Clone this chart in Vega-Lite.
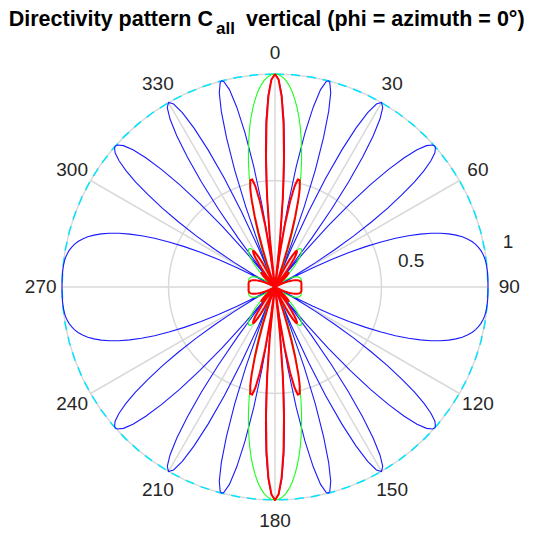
{
"$schema": "https://vega.github.io/schema/vega-lite/v6.json",
"width": 550, "height": 538, "autosize": {"type": "none"}, "padding": 0,
"background": "white",
"config": {"view": {"stroke": null}, "text": {"font": "Liberation Sans"}},
"datasets": {
"pattern": [
{"t":0,"b":1,"g":1,"r":1},
{"t":1,"b":0.976,"g":0.997,"r":0.973},
{"t":2,"b":0.905,"g":0.987,"r":0.894},
{"t":3,"b":0.791,"g":0.971,"r":0.768},
{"t":4,"b":0.64,"g":0.949,"r":0.607},
{"t":5,"b":0.458,"g":0.921,"r":0.422},
{"t":6,"b":0.254,"g":0.887,"r":0.226},
{"t":7,"b":0.039,"g":0.849,"r":0.033},
{"t":8,"b":0.177,"g":0.806,"r":0.143},
{"t":9,"b":0.385,"g":0.759,"r":0.292},
{"t":10,"b":0.574,"g":0.708,"r":0.406},
{"t":11,"b":0.736,"g":0.654,"r":0.482},
{"t":12,"b":0.863,"g":0.599,"r":0.517},
{"t":13,"b":0.951,"g":0.541,"r":0.515},
{"t":14,"b":0.995,"g":0.483,"r":0.48},
{"t":15,"b":0.994,"g":0.424,"r":0.421},
{"t":16,"b":0.949,"g":0.365,"r":0.346},
{"t":17,"b":0.862,"g":0.307,"r":0.265},
{"t":18,"b":0.737,"g":0.251,"r":0.185},
{"t":19,"b":0.582,"g":0.196,"r":0.114},
{"t":20,"b":0.403,"g":0.144,"r":0.058},
{"t":21,"b":0.207,"g":0.095,"r":0.02},
{"t":22,"b":0.005,"g":0.048,"r":0},
{"t":23,"b":0.196,"g":0.005,"r":0.001},
{"t":24,"b":0.388,"g":0.034,"r":0.013},
{"t":25,"b":0.563,"g":0.07,"r":0.04},
{"t":26,"b":0.715,"g":0.102,"r":0.073},
{"t":27,"b":0.837,"g":0.13,"r":0.109},
{"t":28,"b":0.927,"g":0.153,"r":0.142},
{"t":29,"b":0.982,"g":0.173,"r":0.17},
{"t":30,"b":1,"g":0.189,"r":0.189},
{"t":31,"b":0.982,"g":0.201,"r":0.198},
{"t":32,"b":0.93,"g":0.21,"r":0.195},
{"t":33,"b":0.847,"g":0.215,"r":0.182},
{"t":34,"b":0.736,"g":0.217,"r":0.16},
{"t":35,"b":0.602,"g":0.216,"r":0.13},
{"t":36,"b":0.451,"g":0.213,"r":0.096},
{"t":37,"b":0.287,"g":0.207,"r":0.059},
{"t":38,"b":0.117,"g":0.198,"r":0.023},
{"t":39,"b":0.054,"g":0.188,"r":0.01},
{"t":40,"b":0.222,"g":0.177,"r":0.039},
{"t":41,"b":0.38,"g":0.164,"r":0.062},
{"t":42,"b":0.527,"g":0.15,"r":0.079},
{"t":43,"b":0.657,"g":0.135,"r":0.089},
{"t":44,"b":0.768,"g":0.119,"r":0.092},
{"t":45,"b":0.858,"g":0.104,"r":0.089},
{"t":46,"b":0.927,"g":0.088,"r":0.081},
{"t":47,"b":0.973,"g":0.072,"r":0.07},
{"t":48,"b":0.996,"g":0.056,"r":0.056},
{"t":49,"b":0.998,"g":0.04,"r":0.04},
{"t":50,"b":0.98,"g":0.025,"r":0.025},
{"t":51,"b":0.942,"g":0.011,"r":0.01},
{"t":52,"b":0.888,"g":0.003,"r":0.003},
{"t":53,"b":0.819,"g":0.017,"r":0.014},
{"t":54,"b":0.737,"g":0.029,"r":0.021},
{"t":55,"b":0.646,"g":0.041,"r":0.026},
{"t":56,"b":0.546,"g":0.052,"r":0.028},
{"t":57,"b":0.441,"g":0.062,"r":0.027},
{"t":58,"b":0.332,"g":0.071,"r":0.024},
{"t":59,"b":0.222,"g":0.079,"r":0.018},
{"t":60,"b":0.113,"g":0.087,"r":0.01},
{"t":61,"b":0.005,"g":0.094,"r":0},
{"t":62,"b":0.1,"g":0.1,"r":0.01},
{"t":63,"b":0.2,"g":0.105,"r":0.021},
{"t":64,"b":0.295,"g":0.11,"r":0.032},
{"t":65,"b":0.383,"g":0.114,"r":0.044},
{"t":66,"b":0.466,"g":0.117,"r":0.054},
{"t":67,"b":0.541,"g":0.12,"r":0.065},
{"t":68,"b":0.61,"g":0.122,"r":0.075},
{"t":69,"b":0.671,"g":0.124,"r":0.083},
{"t":70,"b":0.726,"g":0.125,"r":0.091},
{"t":71,"b":0.775,"g":0.127,"r":0.098},
{"t":72,"b":0.817,"g":0.127,"r":0.104},
{"t":73,"b":0.853,"g":0.128,"r":0.109},
{"t":74,"b":0.884,"g":0.128,"r":0.113},
{"t":75,"b":0.91,"g":0.128,"r":0.117},
{"t":76,"b":0.931,"g":0.128,"r":0.119},
{"t":77,"b":0.949,"g":0.128,"r":0.121},
{"t":78,"b":0.963,"g":0.128,"r":0.123},
{"t":79,"b":0.973,"g":0.127,"r":0.124},
{"t":80,"b":0.982,"g":0.127,"r":0.125},
{"t":81,"b":0.988,"g":0.126,"r":0.125},
{"t":82,"b":0.993,"g":0.126,"r":0.125},
{"t":83,"b":0.996,"g":0.125,"r":0.125},
{"t":84,"b":0.998,"g":0.125,"r":0.125},
{"t":85,"b":0.999,"g":0.125,"r":0.125},
{"t":86,"b":1,"g":0.124,"r":0.124},
{"t":87,"b":1,"g":0.124,"r":0.124},
{"t":88,"b":1,"g":0.124,"r":0.124},
{"t":89,"b":1,"g":0.124,"r":0.124},
{"t":90,"b":1,"g":0.124,"r":0.124},
{"t":180,"b":1,"g":1,"r":1},
{"t":179,"b":0.976,"g":0.997,"r":0.973},
{"t":178,"b":0.905,"g":0.987,"r":0.894},
{"t":177,"b":0.791,"g":0.971,"r":0.768},
{"t":176,"b":0.64,"g":0.949,"r":0.607},
{"t":175,"b":0.458,"g":0.921,"r":0.422},
{"t":174,"b":0.254,"g":0.887,"r":0.226},
{"t":173,"b":0.039,"g":0.849,"r":0.033},
{"t":172,"b":0.177,"g":0.806,"r":0.143},
{"t":171,"b":0.385,"g":0.759,"r":0.292},
{"t":170,"b":0.574,"g":0.708,"r":0.406},
{"t":169,"b":0.736,"g":0.654,"r":0.482},
{"t":168,"b":0.863,"g":0.599,"r":0.517},
{"t":167,"b":0.951,"g":0.541,"r":0.515},
{"t":166,"b":0.995,"g":0.483,"r":0.48},
{"t":165,"b":0.994,"g":0.424,"r":0.421},
{"t":164,"b":0.949,"g":0.365,"r":0.346},
{"t":163,"b":0.862,"g":0.307,"r":0.265},
{"t":162,"b":0.737,"g":0.251,"r":0.185},
{"t":161,"b":0.582,"g":0.196,"r":0.114},
{"t":160,"b":0.403,"g":0.144,"r":0.058},
{"t":159,"b":0.207,"g":0.095,"r":0.02},
{"t":158,"b":0.005,"g":0.048,"r":0},
{"t":157,"b":0.196,"g":0.005,"r":0.001},
{"t":156,"b":0.388,"g":0.034,"r":0.013},
{"t":155,"b":0.563,"g":0.07,"r":0.04},
{"t":154,"b":0.715,"g":0.102,"r":0.073},
{"t":153,"b":0.837,"g":0.13,"r":0.109},
{"t":152,"b":0.927,"g":0.153,"r":0.142},
{"t":151,"b":0.982,"g":0.173,"r":0.17},
{"t":150,"b":1,"g":0.189,"r":0.189},
{"t":149,"b":0.982,"g":0.201,"r":0.198},
{"t":148,"b":0.93,"g":0.21,"r":0.195},
{"t":147,"b":0.847,"g":0.215,"r":0.182},
{"t":146,"b":0.736,"g":0.217,"r":0.16},
{"t":145,"b":0.602,"g":0.216,"r":0.13},
{"t":144,"b":0.451,"g":0.213,"r":0.096},
{"t":143,"b":0.287,"g":0.207,"r":0.059},
{"t":142,"b":0.117,"g":0.198,"r":0.023},
{"t":141,"b":0.054,"g":0.188,"r":0.01},
{"t":140,"b":0.222,"g":0.177,"r":0.039},
{"t":139,"b":0.38,"g":0.164,"r":0.062},
{"t":138,"b":0.527,"g":0.15,"r":0.079},
{"t":137,"b":0.657,"g":0.135,"r":0.089},
{"t":136,"b":0.768,"g":0.119,"r":0.092},
{"t":135,"b":0.858,"g":0.104,"r":0.089},
{"t":134,"b":0.927,"g":0.088,"r":0.081},
{"t":133,"b":0.973,"g":0.072,"r":0.07},
{"t":132,"b":0.996,"g":0.056,"r":0.056},
{"t":131,"b":0.998,"g":0.04,"r":0.04},
{"t":130,"b":0.98,"g":0.025,"r":0.025},
{"t":129,"b":0.942,"g":0.011,"r":0.01},
{"t":128,"b":0.888,"g":0.003,"r":0.003},
{"t":127,"b":0.819,"g":0.017,"r":0.014},
{"t":126,"b":0.737,"g":0.029,"r":0.021},
{"t":125,"b":0.646,"g":0.041,"r":0.026},
{"t":124,"b":0.546,"g":0.052,"r":0.028},
{"t":123,"b":0.441,"g":0.062,"r":0.027},
{"t":122,"b":0.332,"g":0.071,"r":0.024},
{"t":121,"b":0.222,"g":0.079,"r":0.018},
{"t":120,"b":0.113,"g":0.087,"r":0.01},
{"t":119,"b":0.005,"g":0.094,"r":0},
{"t":118,"b":0.1,"g":0.1,"r":0.01},
{"t":117,"b":0.2,"g":0.105,"r":0.021},
{"t":116,"b":0.295,"g":0.11,"r":0.032},
{"t":115,"b":0.383,"g":0.114,"r":0.044},
{"t":114,"b":0.466,"g":0.117,"r":0.054},
{"t":113,"b":0.541,"g":0.12,"r":0.065},
{"t":112,"b":0.61,"g":0.122,"r":0.075},
{"t":111,"b":0.671,"g":0.124,"r":0.083},
{"t":110,"b":0.726,"g":0.125,"r":0.091},
{"t":109,"b":0.775,"g":0.127,"r":0.098},
{"t":108,"b":0.817,"g":0.127,"r":0.104},
{"t":107,"b":0.853,"g":0.128,"r":0.109},
{"t":106,"b":0.884,"g":0.128,"r":0.113},
{"t":105,"b":0.91,"g":0.128,"r":0.117},
{"t":104,"b":0.931,"g":0.128,"r":0.119},
{"t":103,"b":0.949,"g":0.128,"r":0.121},
{"t":102,"b":0.963,"g":0.128,"r":0.123},
{"t":101,"b":0.973,"g":0.127,"r":0.124},
{"t":100,"b":0.982,"g":0.127,"r":0.125},
{"t":99,"b":0.988,"g":0.126,"r":0.125},
{"t":98,"b":0.993,"g":0.126,"r":0.125},
{"t":97,"b":0.996,"g":0.125,"r":0.125},
{"t":96,"b":0.998,"g":0.125,"r":0.125},
{"t":95,"b":0.999,"g":0.125,"r":0.125},
{"t":94,"b":1,"g":0.124,"r":0.124},
{"t":93,"b":1,"g":0.124,"r":0.124},
{"t":92,"b":1,"g":0.124,"r":0.124},
{"t":91,"b":1,"g":0.124,"r":0.124},
{"t":181,"b":0.976,"g":0.997,"r":0.973},
{"t":182,"b":0.905,"g":0.987,"r":0.894},
{"t":183,"b":0.791,"g":0.971,"r":0.768},
{"t":184,"b":0.64,"g":0.949,"r":0.607},
{"t":185,"b":0.458,"g":0.921,"r":0.422},
{"t":186,"b":0.254,"g":0.887,"r":0.226},
{"t":187,"b":0.039,"g":0.849,"r":0.033},
{"t":188,"b":0.177,"g":0.806,"r":0.143},
{"t":189,"b":0.385,"g":0.759,"r":0.292},
{"t":190,"b":0.574,"g":0.708,"r":0.406},
{"t":191,"b":0.736,"g":0.654,"r":0.482},
{"t":192,"b":0.863,"g":0.599,"r":0.517},
{"t":193,"b":0.951,"g":0.541,"r":0.515},
{"t":194,"b":0.995,"g":0.483,"r":0.48},
{"t":195,"b":0.994,"g":0.424,"r":0.421},
{"t":196,"b":0.949,"g":0.365,"r":0.346},
{"t":197,"b":0.862,"g":0.307,"r":0.265},
{"t":198,"b":0.737,"g":0.251,"r":0.185},
{"t":199,"b":0.582,"g":0.196,"r":0.114},
{"t":200,"b":0.403,"g":0.144,"r":0.058},
{"t":201,"b":0.207,"g":0.095,"r":0.02},
{"t":202,"b":0.005,"g":0.048,"r":0},
{"t":203,"b":0.196,"g":0.005,"r":0.001},
{"t":204,"b":0.388,"g":0.034,"r":0.013},
{"t":205,"b":0.563,"g":0.07,"r":0.04},
{"t":206,"b":0.715,"g":0.102,"r":0.073},
{"t":207,"b":0.837,"g":0.13,"r":0.109},
{"t":208,"b":0.927,"g":0.153,"r":0.142},
{"t":209,"b":0.982,"g":0.173,"r":0.17},
{"t":210,"b":1,"g":0.189,"r":0.189},
{"t":211,"b":0.982,"g":0.201,"r":0.198},
{"t":212,"b":0.93,"g":0.21,"r":0.195},
{"t":213,"b":0.847,"g":0.215,"r":0.182},
{"t":214,"b":0.736,"g":0.217,"r":0.16},
{"t":215,"b":0.602,"g":0.216,"r":0.13},
{"t":216,"b":0.451,"g":0.213,"r":0.096},
{"t":217,"b":0.287,"g":0.207,"r":0.059},
{"t":218,"b":0.117,"g":0.198,"r":0.023},
{"t":219,"b":0.054,"g":0.188,"r":0.01},
{"t":220,"b":0.222,"g":0.177,"r":0.039},
{"t":221,"b":0.38,"g":0.164,"r":0.062},
{"t":222,"b":0.527,"g":0.15,"r":0.079},
{"t":223,"b":0.657,"g":0.135,"r":0.089},
{"t":224,"b":0.768,"g":0.119,"r":0.092},
{"t":225,"b":0.858,"g":0.104,"r":0.089},
{"t":226,"b":0.927,"g":0.088,"r":0.081},
{"t":227,"b":0.973,"g":0.072,"r":0.07},
{"t":228,"b":0.996,"g":0.056,"r":0.056},
{"t":229,"b":0.998,"g":0.04,"r":0.04},
{"t":230,"b":0.98,"g":0.025,"r":0.025},
{"t":231,"b":0.942,"g":0.011,"r":0.01},
{"t":232,"b":0.888,"g":0.003,"r":0.003},
{"t":233,"b":0.819,"g":0.017,"r":0.014},
{"t":234,"b":0.737,"g":0.029,"r":0.021},
{"t":235,"b":0.646,"g":0.041,"r":0.026},
{"t":236,"b":0.546,"g":0.052,"r":0.028},
{"t":237,"b":0.441,"g":0.062,"r":0.027},
{"t":238,"b":0.332,"g":0.071,"r":0.024},
{"t":239,"b":0.222,"g":0.079,"r":0.018},
{"t":240,"b":0.113,"g":0.087,"r":0.01},
{"t":241,"b":0.005,"g":0.094,"r":0},
{"t":242,"b":0.1,"g":0.1,"r":0.01},
{"t":243,"b":0.2,"g":0.105,"r":0.021},
{"t":244,"b":0.295,"g":0.11,"r":0.032},
{"t":245,"b":0.383,"g":0.114,"r":0.044},
{"t":246,"b":0.466,"g":0.117,"r":0.054},
{"t":247,"b":0.541,"g":0.12,"r":0.065},
{"t":248,"b":0.61,"g":0.122,"r":0.075},
{"t":249,"b":0.671,"g":0.124,"r":0.083},
{"t":250,"b":0.726,"g":0.125,"r":0.091},
{"t":251,"b":0.775,"g":0.127,"r":0.098},
{"t":252,"b":0.817,"g":0.127,"r":0.104},
{"t":253,"b":0.853,"g":0.128,"r":0.109},
{"t":254,"b":0.884,"g":0.128,"r":0.113},
{"t":255,"b":0.91,"g":0.128,"r":0.117},
{"t":256,"b":0.931,"g":0.128,"r":0.119},
{"t":257,"b":0.949,"g":0.128,"r":0.121},
{"t":258,"b":0.963,"g":0.128,"r":0.123},
{"t":259,"b":0.973,"g":0.127,"r":0.124},
{"t":260,"b":0.982,"g":0.127,"r":0.125},
{"t":261,"b":0.988,"g":0.126,"r":0.125},
{"t":262,"b":0.993,"g":0.126,"r":0.125},
{"t":263,"b":0.996,"g":0.125,"r":0.125},
{"t":264,"b":0.998,"g":0.125,"r":0.125},
{"t":265,"b":0.999,"g":0.125,"r":0.125},
{"t":266,"b":1,"g":0.124,"r":0.124},
{"t":267,"b":1,"g":0.124,"r":0.124},
{"t":268,"b":1,"g":0.124,"r":0.124},
{"t":269,"b":1,"g":0.124,"r":0.124},
{"t":270,"b":1,"g":0.124,"r":0.124},
{"t":360,"b":1,"g":1,"r":1},
{"t":359,"b":0.976,"g":0.997,"r":0.973},
{"t":358,"b":0.905,"g":0.987,"r":0.894},
{"t":357,"b":0.791,"g":0.971,"r":0.768},
{"t":356,"b":0.64,"g":0.949,"r":0.607},
{"t":355,"b":0.458,"g":0.921,"r":0.422},
{"t":354,"b":0.254,"g":0.887,"r":0.226},
{"t":353,"b":0.039,"g":0.849,"r":0.033},
{"t":352,"b":0.177,"g":0.806,"r":0.143},
{"t":351,"b":0.385,"g":0.759,"r":0.292},
{"t":350,"b":0.574,"g":0.708,"r":0.406},
{"t":349,"b":0.736,"g":0.654,"r":0.482},
{"t":348,"b":0.863,"g":0.599,"r":0.517},
{"t":347,"b":0.951,"g":0.541,"r":0.515},
{"t":346,"b":0.995,"g":0.483,"r":0.48},
{"t":345,"b":0.994,"g":0.424,"r":0.421},
{"t":344,"b":0.949,"g":0.365,"r":0.346},
{"t":343,"b":0.862,"g":0.307,"r":0.265},
{"t":342,"b":0.737,"g":0.251,"r":0.185},
{"t":341,"b":0.582,"g":0.196,"r":0.114},
{"t":340,"b":0.403,"g":0.144,"r":0.058},
{"t":339,"b":0.207,"g":0.095,"r":0.02},
{"t":338,"b":0.005,"g":0.048,"r":0},
{"t":337,"b":0.196,"g":0.005,"r":0.001},
{"t":336,"b":0.388,"g":0.034,"r":0.013},
{"t":335,"b":0.563,"g":0.07,"r":0.04},
{"t":334,"b":0.715,"g":0.102,"r":0.073},
{"t":333,"b":0.837,"g":0.13,"r":0.109},
{"t":332,"b":0.927,"g":0.153,"r":0.142},
{"t":331,"b":0.982,"g":0.173,"r":0.17},
{"t":330,"b":1,"g":0.189,"r":0.189},
{"t":329,"b":0.982,"g":0.201,"r":0.198},
{"t":328,"b":0.93,"g":0.21,"r":0.195},
{"t":327,"b":0.847,"g":0.215,"r":0.182},
{"t":326,"b":0.736,"g":0.217,"r":0.16},
{"t":325,"b":0.602,"g":0.216,"r":0.13},
{"t":324,"b":0.451,"g":0.213,"r":0.096},
{"t":323,"b":0.287,"g":0.207,"r":0.059},
{"t":322,"b":0.117,"g":0.198,"r":0.023},
{"t":321,"b":0.054,"g":0.188,"r":0.01},
{"t":320,"b":0.222,"g":0.177,"r":0.039},
{"t":319,"b":0.38,"g":0.164,"r":0.062},
{"t":318,"b":0.527,"g":0.15,"r":0.079},
{"t":317,"b":0.657,"g":0.135,"r":0.089},
{"t":316,"b":0.768,"g":0.119,"r":0.092},
{"t":315,"b":0.858,"g":0.104,"r":0.089},
{"t":314,"b":0.927,"g":0.088,"r":0.081},
{"t":313,"b":0.973,"g":0.072,"r":0.07},
{"t":312,"b":0.996,"g":0.056,"r":0.056},
{"t":311,"b":0.998,"g":0.04,"r":0.04},
{"t":310,"b":0.98,"g":0.025,"r":0.025},
{"t":309,"b":0.942,"g":0.011,"r":0.01},
{"t":308,"b":0.888,"g":0.003,"r":0.003},
{"t":307,"b":0.819,"g":0.017,"r":0.014},
{"t":306,"b":0.737,"g":0.029,"r":0.021},
{"t":305,"b":0.646,"g":0.041,"r":0.026},
{"t":304,"b":0.546,"g":0.052,"r":0.028},
{"t":303,"b":0.441,"g":0.062,"r":0.027},
{"t":302,"b":0.332,"g":0.071,"r":0.024},
{"t":301,"b":0.222,"g":0.079,"r":0.018},
{"t":300,"b":0.113,"g":0.087,"r":0.01},
{"t":299,"b":0.005,"g":0.094,"r":0},
{"t":298,"b":0.1,"g":0.1,"r":0.01},
{"t":297,"b":0.2,"g":0.105,"r":0.021},
{"t":296,"b":0.295,"g":0.11,"r":0.032},
{"t":295,"b":0.383,"g":0.114,"r":0.044},
{"t":294,"b":0.466,"g":0.117,"r":0.054},
{"t":293,"b":0.541,"g":0.12,"r":0.065},
{"t":292,"b":0.61,"g":0.122,"r":0.075},
{"t":291,"b":0.671,"g":0.124,"r":0.083},
{"t":290,"b":0.726,"g":0.125,"r":0.091},
{"t":289,"b":0.775,"g":0.127,"r":0.098},
{"t":288,"b":0.817,"g":0.127,"r":0.104},
{"t":287,"b":0.853,"g":0.128,"r":0.109},
{"t":286,"b":0.884,"g":0.128,"r":0.113},
{"t":285,"b":0.91,"g":0.128,"r":0.117},
{"t":284,"b":0.931,"g":0.128,"r":0.119},
{"t":283,"b":0.949,"g":0.128,"r":0.121},
{"t":282,"b":0.963,"g":0.128,"r":0.123},
{"t":281,"b":0.973,"g":0.127,"r":0.124},
{"t":280,"b":0.982,"g":0.127,"r":0.125},
{"t":279,"b":0.988,"g":0.126,"r":0.125},
{"t":278,"b":0.993,"g":0.126,"r":0.125},
{"t":277,"b":0.996,"g":0.125,"r":0.125},
{"t":276,"b":0.998,"g":0.125,"r":0.125},
{"t":275,"b":0.999,"g":0.125,"r":0.125},
{"t":274,"b":1,"g":0.124,"r":0.124},
{"t":273,"b":1,"g":0.124,"r":0.124},
{"t":272,"b":1,"g":0.124,"r":0.124},
{"t":271,"b":1,"g":0.124,"r":0.124},
{"t":7.18,"b":0,"g":0.841,"r":0},
{"t":14.48,"b":1,"g":0.455,"r":0.455},
{"t":22.02,"b":0,"g":0.047,"r":0},
{"t":38.68,"b":0,"g":0.192,"r":0},
{"t":48.59,"b":1,"g":0.047,"r":0.047},
{"t":61.04,"b":0,"g":0.094,"r":0},
{"t":172.82,"b":0,"g":0.841,"r":0},
{"t":165.52,"b":1,"g":0.455,"r":0.455},
{"t":157.98,"b":0,"g":0.047,"r":0},
{"t":141.32,"b":0,"g":0.192,"r":0},
{"t":131.41,"b":1,"g":0.047,"r":0.047},
{"t":118.96,"b":0,"g":0.094,"r":0},
{"t":187.18,"b":0,"g":0.841,"r":0},
{"t":194.48,"b":1,"g":0.455,"r":0.455},
{"t":202.02,"b":0,"g":0.047,"r":0},
{"t":218.68,"b":0,"g":0.192,"r":0},
{"t":228.59,"b":1,"g":0.047,"r":0.047},
{"t":241.04,"b":0,"g":0.094,"r":0},
{"t":352.82,"b":0,"g":0.841,"r":0},
{"t":345.52,"b":1,"g":0.455,"r":0.455},
{"t":337.98,"b":0,"g":0.047,"r":0},
{"t":321.32,"b":0,"g":0.192,"r":0},
{"t":311.41,"b":1,"g":0.047,"r":0.047},
{"t":298.96,"b":0,"g":0.094,"r":0}
],
"grid": [
{"t":0,"r":1},{"t":5,"r":1},{"t":10,"r":1},{"t":15,"r":1},{"t":20,"r":1},{"t":25,"r":1},{"t":30,"r":1},{"t":35,"r":1},{"t":40,"r":1},{"t":45,"r":1},{"t":50,"r":1},{"t":55,"r":1},{"t":60,"r":1},{"t":65,"r":1},{"t":70,"r":1},{"t":75,"r":1},{"t":80,"r":1},{"t":85,"r":1},{"t":90,"r":1},{"t":95,"r":1},{"t":100,"r":1},{"t":105,"r":1},{"t":110,"r":1},{"t":115,"r":1},{"t":120,"r":1},{"t":125,"r":1},{"t":130,"r":1},{"t":135,"r":1},{"t":140,"r":1},{"t":145,"r":1},{"t":150,"r":1},{"t":155,"r":1},{"t":160,"r":1},{"t":165,"r":1},{"t":170,"r":1},{"t":175,"r":1},{"t":180,"r":1},{"t":185,"r":1},{"t":190,"r":1},{"t":195,"r":1},{"t":200,"r":1},{"t":205,"r":1},{"t":210,"r":1},{"t":215,"r":1},{"t":220,"r":1},{"t":225,"r":1},{"t":230,"r":1},{"t":235,"r":1},{"t":240,"r":1},{"t":245,"r":1},{"t":250,"r":1},{"t":255,"r":1},{"t":260,"r":1},{"t":265,"r":1},{"t":270,"r":1},{"t":275,"r":1},{"t":280,"r":1},{"t":285,"r":1},{"t":290,"r":1},{"t":295,"r":1},{"t":300,"r":1},{"t":305,"r":1},{"t":310,"r":1},{"t":315,"r":1},{"t":320,"r":1},{"t":325,"r":1},{"t":330,"r":1},{"t":335,"r":1},{"t":340,"r":1},{"t":345,"r":1},{"t":350,"r":1},{"t":355,"r":1},{"t":360,"r":1},
{"t":0,"r":0.5},{"t":5,"r":0.5},{"t":10,"r":0.5},{"t":15,"r":0.5},{"t":20,"r":0.5},{"t":25,"r":0.5},{"t":30,"r":0.5},{"t":35,"r":0.5},{"t":40,"r":0.5},{"t":45,"r":0.5},{"t":50,"r":0.5},{"t":55,"r":0.5},{"t":60,"r":0.5},{"t":65,"r":0.5},{"t":70,"r":0.5},{"t":75,"r":0.5},{"t":80,"r":0.5},{"t":85,"r":0.5},{"t":90,"r":0.5},{"t":95,"r":0.5},{"t":100,"r":0.5},{"t":105,"r":0.5},{"t":110,"r":0.5},{"t":115,"r":0.5},{"t":120,"r":0.5},{"t":125,"r":0.5},{"t":130,"r":0.5},{"t":135,"r":0.5},{"t":140,"r":0.5},{"t":145,"r":0.5},{"t":150,"r":0.5},{"t":155,"r":0.5},{"t":160,"r":0.5},{"t":165,"r":0.5},{"t":170,"r":0.5},{"t":175,"r":0.5},{"t":180,"r":0.5},{"t":185,"r":0.5},{"t":190,"r":0.5},{"t":195,"r":0.5},{"t":200,"r":0.5},{"t":205,"r":0.5},{"t":210,"r":0.5},{"t":215,"r":0.5},{"t":220,"r":0.5},{"t":225,"r":0.5},{"t":230,"r":0.5},{"t":235,"r":0.5},{"t":240,"r":0.5},{"t":245,"r":0.5},{"t":250,"r":0.5},{"t":255,"r":0.5},{"t":260,"r":0.5},{"t":265,"r":0.5},{"t":270,"r":0.5},{"t":275,"r":0.5},{"t":280,"r":0.5},{"t":285,"r":0.5},{"t":290,"r":0.5},{"t":295,"r":0.5},{"t":300,"r":0.5},{"t":305,"r":0.5},{"t":310,"r":0.5},{"t":315,"r":0.5},{"t":320,"r":0.5},{"t":325,"r":0.5},{"t":330,"r":0.5},{"t":335,"r":0.5},{"t":340,"r":0.5},{"t":345,"r":0.5},{"t":350,"r":0.5},{"t":355,"r":0.5},{"t":360,"r":0.5}
],
"spokes": [
{"t":0,"lab":"0"},{"t":30,"lab":"30"},{"t":60,"lab":"60"},{"t":90,"lab":"90"},{"t":120,"lab":"120"},{"t":150,"lab":"150"},{"t":180,"lab":"180"},{"t":210,"lab":"210"},{"t":240,"lab":"240"},{"t":270,"lab":"270"},{"t":300,"lab":"300"},{"t":330,"lab":"330"}
],
"rticks": [{"lab":"0.5","r":0.5},{"lab":"1","r":1}],
"title": [{"part":"main","txt":"Directivity pattern C"},{"part":"sub","txt":"all"},{"part":"rest","txt":"vertical (phi = azimuth = 0°)"}]
},
"layer": [
{
"data": {"name": "grid"},
"transform": [
{"calculate": "datum.r*sin(datum.t*PI/180)", "as": "x"},
{"calculate": "datum.r*cos(datum.t*PI/180)", "as": "y"}
],
"mark": {"type": "line", "color": "#d9d9d9", "strokeWidth": 1.5},
"encoding": {
"x": {"field": "x", "type": "quantitative", "scale": {"domain": [-1.29108, 1.29108], "nice": false, "zero": false}, "axis": null},
"y": {"field": "y", "type": "quantitative", "scale": {"domain": [-1.1784, 1.34742], "nice": false, "zero": false}, "axis": null},
"detail": {"field": "r", "type": "nominal"},
"order": {"field": "t", "type": "quantitative"}
}
},
{
"data": {"name": "spokes"},
"transform": [
{"calculate": "sin(datum.t*PI/180)", "as": "ex"},
{"calculate": "cos(datum.t*PI/180)", "as": "ey"},
{"calculate": "0", "as": "o"}
],
"mark": {"type": "rule", "color": "#d9d9d9", "strokeWidth": 1.5},
"encoding": {
"x": {"field": "o", "type": "quantitative", "scale": {"domain": [-1.29108, 1.29108], "nice": false, "zero": false}, "axis": null},
"y": {"field": "o", "type": "quantitative", "scale": {"domain": [-1.1784, 1.34742], "nice": false, "zero": false}, "axis": null},
"x2": {"field": "ex"},
"y2": {"field": "ey"}
}
},
{
"data": {"name": "grid"},
"transform": [
{"filter": "datum.r == 1"},
{"calculate": "datum.r*sin(datum.t*PI/180)", "as": "x"},
{"calculate": "datum.r*cos(datum.t*PI/180)", "as": "y"}
],
"mark": {"type": "line", "color": "#00e5ff", "strokeWidth": 1.5, "strokeDash": [9, 7]},
"encoding": {
"x": {"field": "x", "type": "quantitative", "scale": {"domain": [-1.29108, 1.29108], "nice": false, "zero": false}, "axis": null},
"y": {"field": "y", "type": "quantitative", "scale": {"domain": [-1.1784, 1.34742], "nice": false, "zero": false}, "axis": null},
"order": {"field": "t", "type": "quantitative"}
}
},
{
"data": {"name": "pattern"},
"transform": [
{"calculate": "datum.b*sin(datum.t*PI/180)", "as": "x"},
{"calculate": "datum.b*cos(datum.t*PI/180)", "as": "y"}
],
"mark": {"type": "line", "color": "#1a1aff", "strokeWidth": 1.1},
"encoding": {
"x": {"field": "x", "type": "quantitative", "scale": {"domain": [-1.29108, 1.29108], "nice": false, "zero": false}, "axis": null},
"y": {"field": "y", "type": "quantitative", "scale": {"domain": [-1.1784, 1.34742], "nice": false, "zero": false}, "axis": null},
"order": {"field": "t", "type": "quantitative"}
}
},
{
"data": {"name": "pattern"},
"transform": [
{"calculate": "datum.g*sin(datum.t*PI/180)", "as": "x"},
{"calculate": "datum.g*cos(datum.t*PI/180)", "as": "y"}
],
"mark": {"type": "line", "color": "#1aff1a", "strokeWidth": 1.1},
"encoding": {
"x": {"field": "x", "type": "quantitative", "scale": {"domain": [-1.29108, 1.29108], "nice": false, "zero": false}, "axis": null},
"y": {"field": "y", "type": "quantitative", "scale": {"domain": [-1.1784, 1.34742], "nice": false, "zero": false}, "axis": null},
"order": {"field": "t", "type": "quantitative"}
}
},
{
"data": {"name": "pattern"},
"transform": [
{"calculate": "datum.r*sin(datum.t*PI/180)", "as": "x"},
{"calculate": "datum.r*cos(datum.t*PI/180)", "as": "y"}
],
"mark": {"type": "line", "color": "#ff0000", "strokeWidth": 2, "strokeJoin": "round"},
"encoding": {
"x": {"field": "x", "type": "quantitative", "scale": {"domain": [-1.29108, 1.29108], "nice": false, "zero": false}, "axis": null},
"y": {"field": "y", "type": "quantitative", "scale": {"domain": [-1.1784, 1.34742], "nice": false, "zero": false}, "axis": null},
"order": {"field": "t", "type": "quantitative"}
}
},
{
"data": {"name": "spokes"},
"transform": [
{"calculate": "1.1*sin(datum.t*PI/180)", "as": "lx"},
{"calculate": "1.1*cos(datum.t*PI/180)", "as": "ly"}
],
"mark": {"type": "text", "fontSize": 19, "color": "#262626", "align": "center", "baseline": "middle"},
"encoding": {
"x": {"field": "lx", "type": "quantitative", "scale": {"domain": [-1.29108, 1.29108], "nice": false, "zero": false}, "axis": null},
"y": {"field": "ly", "type": "quantitative", "scale": {"domain": [-1.1784, 1.34742], "nice": false, "zero": false}, "axis": null},
"text": {"field": "lab", "type": "nominal"}
}
},
{
"data": {"name": "rticks"},
"transform": [
{"calculate": "datum.r*sin(80*PI/180)", "as": "lx"},
{"calculate": "datum.r*cos(80*PI/180)", "as": "ly"}
],
"mark": {"type": "text", "fontSize": 19, "color": "#262626", "align": "left", "baseline": "middle", "dx": 18, "dy": -8},
"encoding": {
"x": {"field": "lx", "type": "quantitative", "scale": {"domain": [-1.29108, 1.29108], "nice": false, "zero": false}, "axis": null},
"y": {"field": "ly", "type": "quantitative", "scale": {"domain": [-1.1784, 1.34742], "nice": false, "zero": false}, "axis": null},
"text": {"field": "lab", "type": "nominal"}
}
},
{
"data": {"name": "title"},
"transform": [{"filter": "datum.part == 'main'"}],
"mark": {"type": "text", "fontSize": 21.5, "fontWeight": "bold", "color": "#000000", "align": "right", "baseline": "alphabetic"},
"encoding": {
"x": {"datum": -0.29108, "type": "quantitative", "scale": {"domain": [-1.29108, 1.29108], "nice": false, "zero": false}, "axis": null},
"y": {"datum": 1.22535, "type": "quantitative", "scale": {"domain": [-1.1784, 1.34742], "nice": false, "zero": false}, "axis": null},
"text": {"field": "txt", "type": "nominal"}
}
},
{
"data": {"name": "title"},
"transform": [{"filter": "datum.part == 'sub'"}],
"mark": {"type": "text", "fontSize": 17, "fontWeight": "bold", "color": "#000000", "align": "left", "baseline": "alphabetic"},
"encoding": {
"x": {"datum": -0.277, "type": "quantitative", "scale": {"domain": [-1.29108, 1.29108], "nice": false, "zero": false}, "axis": null},
"y": {"datum": 1.18779, "type": "quantitative", "scale": {"domain": [-1.1784, 1.34742], "nice": false, "zero": false}, "axis": null},
"text": {"field": "txt", "type": "nominal"}
}
},
{
"data": {"name": "title"},
"transform": [{"filter": "datum.part == 'rest'"}],
"mark": {"type": "text", "fontSize": 21.5, "fontWeight": "bold", "color": "#000000", "align": "left", "baseline": "alphabetic"},
"encoding": {
"x": {"datum": -0.13615, "type": "quantitative", "scale": {"domain": [-1.29108, 1.29108], "nice": false, "zero": false}, "axis": null},
"y": {"datum": 1.22535, "type": "quantitative", "scale": {"domain": [-1.1784, 1.34742], "nice": false, "zero": false}, "axis": null},
"text": {"field": "txt", "type": "nominal"}
}
}
]
}
